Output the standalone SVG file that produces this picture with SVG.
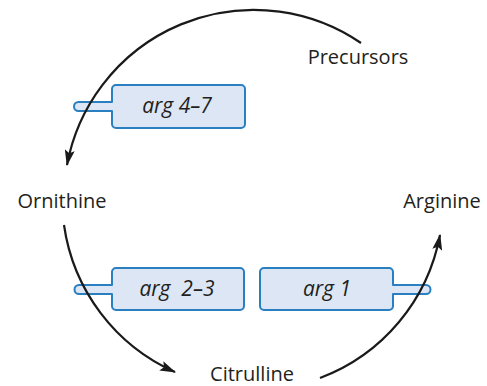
<svg xmlns="http://www.w3.org/2000/svg" width="487" height="386" viewBox="0 0 487 386">
<style>
.lbl{font-family:"Open Sans","Liberation Sans",Arial,sans-serif;font-size:20px;fill:#231f20;text-anchor:middle}
.gene{font-family:"Open Sans","Liberation Sans",Arial,sans-serif;font-size:21px;font-style:italic;fill:#231f20;text-anchor:middle}
.box{fill:#dde6f4;stroke:#2a7fc0;stroke-width:2;stroke-linejoin:round}
.arc{fill:none;stroke:#1a1a1a;stroke-width:2.2;marker-end:url(#ah)}
</style>
<defs>
<marker id="ah" viewBox="0 0 16 10" refX="15" refY="5" markerWidth="16" markerHeight="10" markerUnits="userSpaceOnUse" orient="auto">
<path d="M0,0 L16,5 L0,10 L3,5 Z" fill="#1a1a1a"/>
</marker>
</defs>
<rect width="487" height="386" fill="#ffffff"/>
<g id="precursors"><text class="lbl" x="358" y="64">Precursors</text></g>
<g id="ornithine"><text class="lbl" x="62" y="208">Ornithine</text></g>
<g id="arginine"><text class="lbl" x="442" y="208">Arginine</text></g>
<g id="citrulline"><text class="lbl" x="252" y="381">Citrulline</text></g>
<g id="arg47">
<path class="box" d="M116,85 H241 A4,4 0 0 1 245,89 V124 A4,4 0 0 1 241,128 H116 A4,4 0 0 1 112,124 V111 H78.5 A4.5,4.5 0 0 1 78.5,102 H112 V89 A4,4 0 0 1 116,85 Z"/>
<text class="gene" x="177" y="113">arg 4–7</text>
</g>
<g id="arg23">
<path class="box" d="M116,268 H240 A4,4 0 0 1 244,272 V306 A4,4 0 0 1 240,310 H116 A4,4 0 0 1 112,306 V294 H79 A4.5,4.5 0 0 1 79,285 H112 V272 A4,4 0 0 1 116,268 Z"/>
<text class="gene" x="177" y="296" xml:space="preserve">arg  2–3</text>
</g>
<g id="arg1">
<path class="box" d="M264,268 H389 A4,4 0 0 1 393,272 V285 H426 A4.5,4.5 0 0 1 426,294 H393 V306 A4,4 0 0 1 389,310 H264 A4,4 0 0 1 260,306 V272 A4,4 0 0 1 264,268 Z"/>
<text class="gene" x="327" y="296">arg 1</text>
</g>
<g id="connectors">
<path class="arc" d="M361,43 A190,190 0 0 0 67,165"/>
<path class="arc" d="M64,225 A190,190 0 0 0 175,372"/>
<path class="arc" d="M320,378 A190,190 0 0 0 440,235"/>
</g>
</svg>
